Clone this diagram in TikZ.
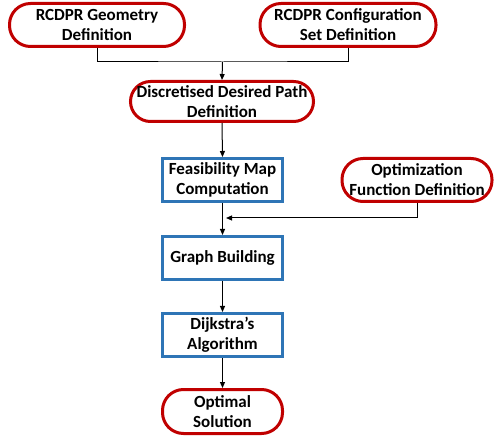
\documentclass[tikz,border=0pt]{standalone}
\usepackage{fontspec}
\setmainfont{Carlito}
\usetikzlibrary{arrows.meta}
\definecolor{myred}{RGB}{192,0,0}
\definecolor{myblue}{RGB}{46,117,182}
\tikzset{
  term/.style={draw=myred, line width=3pt, rounded corners=21pt, fill=white,
    align=center, font=\fontsize{17}{20}\selectfont\bfseries, inner sep=0pt},
  proc/.style={draw=myblue, line width=3pt, fill=white,
    align=center, font=\fontsize{17}{20}\selectfont\bfseries, inner sep=0pt,
    minimum width=120pt, minimum height=43pt},
  conn/.style={line width=1pt, black},
  arr/.style={conn, -{Triangle[length=6pt,width=5pt]}}
}
\begin{document}
\begin{tikzpicture}[x=1pt,y=-1pt]
\useasboundingbox (0,0) rectangle (495,443);
\node[term, minimum width=175pt, minimum height=43pt] (n1) at (97,25) {RCDPR Geometry\\Definition};
\node[term, minimum width=176pt, minimum height=43pt] (n2) at (348,25) {RCDPR Configuration\\Set Definition};
\node[term, minimum width=183pt, minimum height=40pt, rounded corners=20pt] (n3) at (222,101.5) {Discretised Desired Path\\Definition};
\node[proc] (n4) at (222.5,180) {Feasibility Map\\Computation};
\node[term, minimum width=150pt, minimum height=43pt] (n5) at (417,180) {Optimization\\Function Definition};
\node[proc] (n6) at (222.5,258) {Graph Building};
\node[proc] (n7) at (222.5,335) {Dijkstra’s\\Algorithm};
\node[term, minimum width=120pt, minimum height=44pt] (n8) at (222.5,411.5) {Optimal\\Solution};
\coordinate (j) at (222.5,62);
\coordinate (k) at (226,218);
\draw[conn] (n1.south) |- (j) -| (n2.south);
\draw[arr] (j) -- (n3.north);
\draw[arr] (n3.south) -- (n4.north);
\draw[arr] (n4.south) -- (n6.north);
\draw[arr] (n5.south) |- (k);
\draw[arr] (n6.south) -- (n7.north);
\draw[arr] (n7.south) -- (n8.north);
\end{tikzpicture}
\end{document}
